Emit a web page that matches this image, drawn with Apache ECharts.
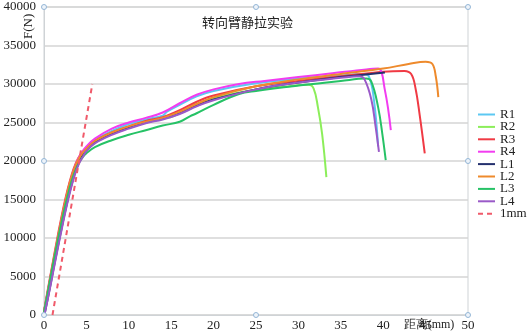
<!DOCTYPE html>
<html>
<head>
    <meta charset="UTF-8">
    <title>转向臂静拉实验</title>
    <script src="https://cdn.jsdelivr.net/npm/echarts@6/dist/echarts.min.js"></script>
</head>
<body style="margin:0">
    <div id="main" style="width: 529px; height: 332px;"></div>

    <script>
        // tick values
        var xTicks = [0, 50, 5];
        var yTicks = [0, 40000, 5000];

        // force-displacement curves, [mm, N]
        var R1 = [[0, 400], [0.5, 3300], [1, 6200], [1.5, 9100], [2, 11900], [2.5, 14500], [3, 16800], [3.5, 18700], [4, 20100], [4.5, 21000],
            [5, 21700], [6, 22700], [8, 23900], [10, 24800], [12, 25400], [14, 25900], [14.5, 26400], [16, 27300], [18, 28400], [20, 29100],
            [25, 30100], [30, 30700], [35, 31100], [37.5, 31300], [38.3, 31000], [38.9, 28000], [39.4, 21900]];
        var R2 = [[0, 400], [0.5, 3200], [1, 6000], [1.5, 8900], [2, 11700], [2.5, 14300], [3, 16600], [3.5, 18500], [4, 19900], [4.5, 20800],
            [5, 21500], [6, 22500], [8, 23600], [10, 24400], [12, 25000], [14, 25500], [15, 25700], [16, 26200], [18, 27400], [20, 28200],
            [25, 29300], [28, 29600], [31.2, 29900], [31.8, 29400], [32.3, 27000], [32.8, 23500], [33.3, 17900]];
        var R3 = [[0, 500], [0.5, 3600], [1, 6600], [1.5, 9600], [2, 12400], [2.5, 15000], [3, 17200], [3.5, 19000], [4, 20300], [4.5, 21100],
            [5, 21700], [6, 22600], [8, 23700], [10, 24500], [12, 25200], [14, 25700], [16, 26600], [18, 27700], [20, 28500],
            [25, 29700], [30, 30400], [35, 31000], [40, 31600], [42.5, 31700], [43.3, 31300], [43.8, 29500], [44.3, 26000], [44.9, 21000]];
        var R4 = [[0, 400], [0.5, 3400], [1, 6300], [1.5, 9200], [2, 12000], [2.5, 14600], [3, 16900], [3.5, 18800], [4, 20200], [4.5, 21200],
            [5, 21900], [6, 22900], [8, 24200], [10, 25000], [12, 25600], [14, 26300], [16, 27500], [18, 28600], [20, 29300],
            [23, 30000], [26, 30400], [30, 30900], [34, 31400], [38, 31900], [39.4, 32000], [40.2, 29200], [40.9, 24000]];
        var L1 = [[0.1, 300], [0.6, 3000], [1.1, 5900], [1.6, 8700], [2.1, 11400], [2.6, 14000], [3.1, 16300], [3.6, 18300], [4.1, 19800], [4.6, 20800],
            [5, 21400], [6, 22400], [8, 23500], [10, 24300], [12, 25000], [14, 25500], [16, 26200], [18, 27200], [20, 28000],
            [25, 29300], [30, 30200], [35, 30900], [38.5, 31300], [40.2, 31500]];
        var L2 = [[0, 400], [0.5, 3400], [1, 6400], [1.5, 9300], [2, 12100], [2.5, 14700], [3, 17000], [3.5, 18800], [4, 20100], [4.5, 21000],
            [5, 21600], [6, 22600], [8, 23700], [10, 24500], [12, 25100], [14, 25600], [16, 26400], [18, 27400], [20, 28300],
            [25, 29700], [30, 30600], [35, 31300], [40, 32000], [43, 32600], [45, 32900], [45.8, 32600], [46.2, 31000], [46.5, 28300]];
        var L3 = [[0, 400], [0.5, 3300], [1, 6200], [1.5, 9000], [2, 11700], [2.5, 14200], [3, 16400], [3.5, 18200], [4, 19500], [4.5, 20400],
            [5, 21000], [6, 21800], [8, 22700], [10, 23400], [12, 24000], [14, 24600], [16, 25100], [17.2, 25800], [18, 26200], [20, 27300],
            [23, 28700], [25, 29100], [30, 29800], [35, 30400], [38, 30700], [38.6, 30300], [39.4, 27000], [39.9, 23500], [40.3, 20100]];
        var L4 = [[0.1, 300], [0.6, 2900], [1.1, 5700], [1.6, 8500], [2.1, 11200], [2.6, 13800], [3.1, 16100], [3.6, 18100], [4.1, 19600], [4.6, 20600],
            [5, 21300], [6, 22300], [8, 23400], [10, 24200], [12, 24900], [14, 25400], [16, 26100], [18, 27100], [20, 27900],
            [25, 29300], [30, 30200], [35, 30800], [37.2, 31000], [37.8, 30600], [38.6, 28000], [39.1, 24500], [39.5, 21200]];
        var oneMm = [[1, 0], [5.7, 30000]];

        var names = ['R1', 'R2', 'R3', 'R4', 'L1', 'L2', 'L3', 'L4'];
        var curves = [R1, R2, R3, R4, L1, L2, L3, L4];
        var colors = ['#5cc8f2', '#8cee5a', '#f03a44', '#f23cf0', '#24306e', '#ee8a2c', '#26c266', '#9a5ac8'];

        var serif = '"Liberation Serif", "DejaVu Serif", serif';
        var myChart = echarts.init(document.getElementById('main'));

        var series = [];
        for (var i = 0; i < names.length; i++) {
            series.push({
                name: names[i],
                type: 'line',
                data: curves[i],
                smooth: 0.4,
                symbol: 'none',
                lineStyle: { width: 2, color: colors[i] },
                itemStyle: { color: colors[i] }
            });
        }
        series.push({
            name: '1mm',
            type: 'line',
            data: oneMm,
            symbol: 'none',
            z: 3,
            lineStyle: { width: 2, color: '#f05a6a', type: [5, 4] },
            itemStyle: { color: '#f05a6a' }
        });

        var option = {
            animation: false,
            backgroundColor: '#fff',
            grid: {
                left: 44, right: 61, top: 7, bottom: 17,
                show: true, borderColor: '#cfd3d6', borderWidth: 1
            },
            title: {
                text: '转向臂静拉实验',
                left: 197, top: 11,
                textStyle: { fontFamily: 'Noto Sans CJK SC', fontSize: 13, fontWeight: 'normal', color: '#222' }
            },
            legend: {
                orient: 'vertical',
                left: 477, top: 108, padding: 0,
                itemWidth: 17, itemHeight: 10, itemGap: -0.6,
                itemStyle: { opacity: 0 },
                textStyle: { fontFamily: serif, fontSize: 13, lineHeight: 13, color: '#222' },
                data: names.concat(['1mm'])
            },
            xAxis: {
                type: 'value',
                min: xTicks[0], max: xTicks[1], interval: xTicks[2],
                axisLine: { show: true, lineStyle: { color: '#cfd3d6' } },
                axisTick: { show: false },
                splitLine: { show: false },
                axisLabel: { margin: 4, fontFamily: serif, fontSize: 13, color: '#222' }
            },
            yAxis: {
                type: 'value',
                min: yTicks[0], max: yTicks[1], interval: yTicks[2],
                axisLine: { show: true, lineStyle: { color: '#cfd3d6' } },
                axisTick: { show: false },
                splitLine: { lineStyle: { color: '#d4d4d4', width: 1.5 } },
                axisLabel: {
                    margin: 8, fontFamily: serif, fontSize: 13, color: '#222',
                    formatter: function (v) { return String(v); }
                }
            },
            graphic: [
                {
                    type: 'text', x: 29, y: 39, rotation: Math.PI / 2,
                    style: { text: 'F(N)', fontFamily: serif, fontSize: 13, fill: '#222', align: 'left', verticalAlign: 'middle' }
                },
                {
                    type: 'text', x: 429, y: 325,
                    style: { text: '距离(mm)', fontFamily: serif, fontSize: 12, fill: '#222', align: 'center', verticalAlign: 'middle' }
                }
            ],
            series: series
        };
        myChart.setOption(option);

        // little selection handles on the plot frame
        var handles = [[0, 40000], [25, 40000], [50, 40000], [50, 20000], [50, 0], [25, 0], [0, 0], [0, 20000]];
        var extra = option.graphic.slice();
        handles.forEach(function (h) {
            var p = myChart.convertToPixel({ gridIndex: 0 }, h);
            extra.push({
                type: 'circle', shape: { cx: p[0], cy: p[1], r: 2.5 },
                style: { fill: '#eef4fa', stroke: '#94b6d6', lineWidth: 1 }, z: 10
            });
        });
        myChart.setOption({ graphic: extra });
    </script>
</body>
</html>
